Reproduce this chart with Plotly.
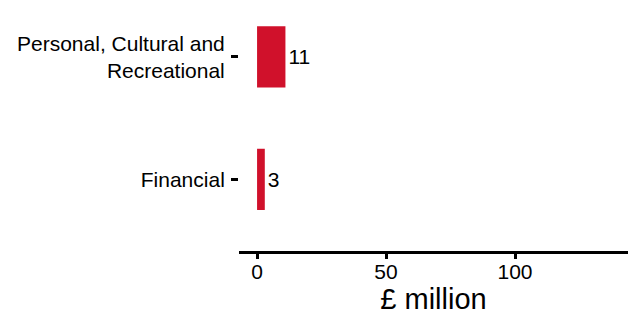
import plotly.graph_objects as go

categories = ["Financial", "Personal, Cultural and<br>Recreational"]
values = [3, 11]
value_labels = ["3", "11"]
x_ticks = [0, 50, 100]

FONT = "Liberation Sans, Arial, sans-serif"

fig = go.Figure(go.Bar(
    x=values, y=categories, orientation="h",
    marker=dict(color="#D0112B", line=dict(width=0)),
    width=0.5,
    text=value_labels, textposition="outside",
    textfont=dict(size=21, color="black", family=FONT),
    cliponaxis=False,
))

fig.update_layout(
    width=628, height=315,
    margin=dict(l=239, r=0, t=0, b=64),
    paper_bgcolor="white", plot_bgcolor="white",
    font=dict(family=FONT, color="black"),
    showlegend=False,
)
fig.update_xaxes(
    automargin=False,
    range=[-7, 143.8], tickvals=x_ticks, ticktext=[str(v) for v in x_ticks],
    showgrid=False, zeroline=False,
    showline=True, linecolor="black", linewidth=3,
    ticks="outside", ticklen=5, tickwidth=3, tickcolor="black",
    tickfont=dict(size=21), ticklabelstandoff=-5,
    title=dict(text="£ million", font=dict(size=29), standoff=10),
)
fig.update_yaxes(
    automargin=False,
    range=[-0.585, 1.465],
    showgrid=False, zeroline=False, showline=False,
    ticks="outside", ticklen=7, tickwidth=3, tickcolor="black",
    tickfont=dict(size=21), ticklabelstandoff=2,
)

fig.write_html("out.html", config={"displayModeBar": False},
               post_script="document.body.style.margin='0';")
